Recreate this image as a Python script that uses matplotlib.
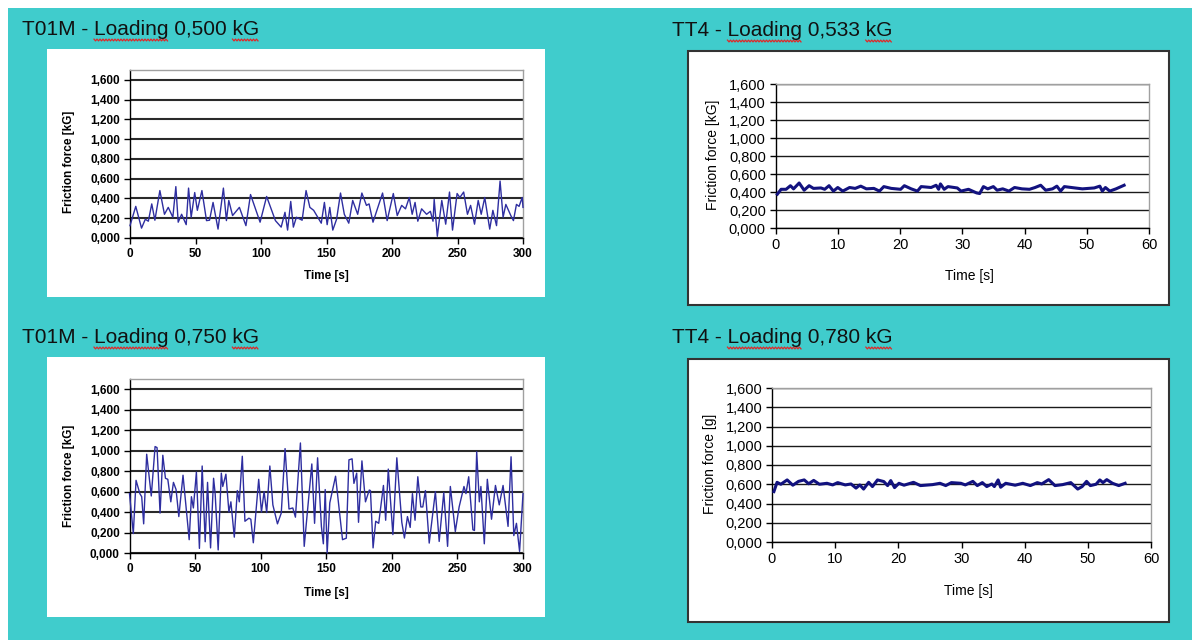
import matplotlib
matplotlib.use('Agg')
import matplotlib.pyplot as plt
from matplotlib.patches import Rectangle
from matplotlib.lines import Line2D
import numpy as np

plt.rcParams['font.family'] = ['Liberation Sans', 'DejaVu Sans']

TEAL = '#40CCCC'
NAVY_THIN = '#2E2EA0'
NAVY_THICK = '#12127F'
GRID = '#2A2A2A'

W, H = 1192, 640

# ---- data: T01M, loading 0,500 kG ----
t1 = [0, 4.4, 8.8, 11.7, 14, 16.6, 19, 22.8, 26.3, 29.2, 32.7, 35, 36.8, 39.4, 42.9,
      44.7, 46.7, 49.4, 51.4, 54.9, 58.4, 60.7, 63.4, 67.2, 71.3, 73.6, 75.4, 78.3, 83.5,
      88.5, 92, 99.3, 104.3, 111, 115.4, 118.3, 120.3, 122.7, 124.7, 127, 131.4, 134.4,
      137.3, 140.2, 146, 148.4, 150.5, 152.5, 154.8, 157.7, 160.7, 163.6, 167, 170, 173.8,
      177, 180.5, 182.5, 185.5, 192.8, 196.3, 201, 204, 207.4, 210.3, 213.2, 215.4, 217.6,
      219.7, 222.6, 226.4, 229.3, 231.3, 232.2, 234.6, 238, 241, 243.9, 246.2, 249.7, 251.8,
      254.7, 257.6, 260, 263, 265.8, 268.1, 270.8, 274.6, 277, 279.8, 282.5, 284.8, 286.9,
      290.7, 292.7, 295, 297, 299.4, 300]
f1 = [0.125, 0.32, 0.10, 0.19, 0.17, 0.345, 0.18, 0.48, 0.24, 0.31, 0.21, 0.52, 0.16, 0.24, 0.135,
      0.505, 0.21, 0.46, 0.28, 0.48, 0.176, 0.18, 0.36, 0.09, 0.505, 0.176, 0.38, 0.227, 0.31,
      0.125, 0.44, 0.16, 0.42, 0.176, 0.11, 0.26, 0.08, 0.37, 0.11, 0.21, 0.18, 0.48,
      0.31, 0.28, 0.15, 0.36, 0.135, 0.31, 0.08, 0.19, 0.455, 0.24, 0.15, 0.38, 0.24,
      0.455, 0.33, 0.345, 0.16, 0.455, 0.176, 0.45, 0.227, 0.33, 0.295, 0.41, 0.24, 0.36,
      0.17, 0.295, 0.24, 0.27, 0.17, 0.39, 0.017, 0.38, 0.14, 0.465, 0.08, 0.45, 0.41,
      0.465, 0.24, 0.33, 0.14, 0.38, 0.24, 0.41, 0.09, 0.28, 0.125, 0.576, 0.21, 0.34,
      0.227, 0.176, 0.34, 0.32, 0.41, 0.31]

# ---- data: TT4, loading 0,533 kG ----
t2 = [0.3, 0.9, 1.7, 2.4, 2.9, 3.8, 4.6, 5.4, 6.1, 7.3, 7.9, 8.6, 9.3, 10, 10.8, 11.9, 12.8,
      13.7, 14.6, 15.8, 16.7, 17.4, 18.6, 20.1, 20.7, 21.8, 22.8, 23.4, 25, 25.8, 26.2, 26.5,
      27.1, 27.7, 29.2, 29.8, 31, 32.3, 32.8, 33.4, 34.1, 35, 35.6, 36.5, 37.5, 38.4, 39.6,
      40.8, 41.7, 42.6, 43.4, 44.5, 45.2, 45.8, 46.4, 48.1, 49.3, 51.2, 52.1, 52.5, 53, 53.7,
      54.7, 56]
f2 = [0.376, 0.43, 0.43, 0.47, 0.435, 0.50, 0.42, 0.47, 0.44, 0.445, 0.43, 0.47, 0.41, 0.45,
      0.41, 0.45, 0.44, 0.465, 0.435, 0.44, 0.41, 0.46, 0.44, 0.43, 0.47, 0.435, 0.41, 0.46,
      0.45, 0.475, 0.43, 0.49, 0.43, 0.46, 0.445, 0.41, 0.43, 0.39, 0.383, 0.46, 0.435, 0.46,
      0.42, 0.435, 0.41, 0.45, 0.435, 0.43, 0.45, 0.475, 0.42, 0.435, 0.465, 0.41, 0.46,
      0.445, 0.435, 0.445, 0.465, 0.41, 0.45, 0.41, 0.435, 0.475]

# ---- data: T01M, loading 0,750 kG ----
t3 = [0, 2.9, 5, 7.9, 9.3, 10.8, 13.1, 16.6, 19.5, 21, 23.3, 25.4, 27.4, 29.2, 31.5, 33.5,
      35.5, 37.6, 40.8, 45.5, 47.2, 48.7, 51, 53.3, 55.4, 57.7, 59.5, 61.8, 64.1, 65.3, 67.6,
      70, 71.1, 73.5, 75.8, 77.3, 79.9, 82.2, 83.7, 86, 88, 91, 92.5, 94.4, 98.5, 100.6,
      102.6, 104.6, 107, 109.3, 112.8, 115.7, 118.6, 121.6, 124.5, 126.5, 130.3, 133.2, 139,
      141.1, 143.4, 146.3, 147.8, 149.2, 150.7, 152.7, 157.1, 162.4, 165.3, 167.3, 169.7,
      171.1, 173.2, 174.6, 177.2, 179.9, 182.8, 183.7, 185.7, 187.7, 190, 193.6, 195.3,
      197.3, 200.8, 203.8, 206.7, 207.6, 209.6, 211.9, 214, 215.7, 217.7, 219.8, 222.1,
      223.6, 225.6, 228.5, 233.2, 236.1, 239.6, 242.5, 244.6, 248.4, 251.3, 255, 256.5,
      258.6, 261.8, 263, 264.7, 266.7, 267.9, 270.5, 272.8, 276, 279, 281.9, 284.8, 288.6,
      290.9, 293, 295, 297.4, 300]
f3 = [0.58, 0.19, 0.71, 0.58, 0.55, 0.285, 0.965, 0.557, 1.04, 1.03, 0.39, 0.955, 0.73,
      0.72, 0.50, 0.69, 0.62, 0.356, 0.76, 0.13, 0.55, 0.44, 0.79, 0.045, 0.85, 0.11, 0.69,
      0.05, 0.73, 0.58, 0.03, 0.78, 0.65, 0.77, 0.40, 0.50, 0.155, 0.61, 0.50, 0.945, 0.31,
      0.34, 0.33, 0.10, 0.72, 0.40, 0.60, 0.395, 0.85, 0.47, 0.285, 0.39, 1.02, 0.43, 0.44,
      0.35, 1.075, 0.065, 0.87, 0.29, 0.93, 0.26, 0.09, 0.62, 0.0, 0.49, 0.75, 0.13, 0.145,
      0.91, 0.92, 0.68, 0.78, 0.30, 0.90, 0.50, 0.615, 0.61, 0.05, 0.31, 0.29, 0.66, 0.32,
      0.82, 0.18, 0.93, 0.45, 0.30, 0.146, 0.356, 0.25, 0.58, 0.32, 0.745, 0.45, 0.45,
      0.61, 0.097, 0.60, 0.113, 0.59, 0.065, 0.65, 0.21, 0.45, 0.65, 0.58, 0.745, 0.227,
      0.22, 0.99, 0.50, 0.65, 0.09, 0.72, 0.33, 0.66, 0.47, 0.66, 0.26, 0.94, 0.17, 0.29,
      0.016, 0.58]

# ---- data: TT4, loading 0,780 kG ----
t4 = [0.3, 0.8, 1.4, 2.4, 3.3, 4.2, 5.1, 5.8, 6.6, 7.5, 8.7, 9.6, 10.4, 11.6, 12.5, 13.3,
      13.9, 14.5, 15.3, 15.9, 16.7, 17.7, 18.3, 18.8, 19.4, 20.1, 20.9, 22.4, 23.5, 25.4,
      26.6, 27.5, 28.4, 29.9, 30.6, 31.8, 32.5, 33.3, 34, 34.8, 35.2, 35.8, 36.2, 37, 38.5,
      39.7, 40.9, 42, 42.7, 43.8, 44.8, 46, 47.3, 48.4, 49.1, 49.8, 50.4, 51.3, 51.9, 52.4,
      53, 53.9, 54.9, 55.9]
f4 = [0.524, 0.62, 0.60, 0.645, 0.59, 0.63, 0.645, 0.605, 0.64, 0.60, 0.61, 0.593, 0.617,
      0.593, 0.603, 0.56, 0.593, 0.55, 0.62, 0.576, 0.645, 0.628, 0.586, 0.638, 0.565, 0.61,
      0.59, 0.62, 0.586, 0.596, 0.61, 0.586, 0.617, 0.61, 0.593, 0.63, 0.586, 0.617, 0.576,
      0.603, 0.576, 0.645, 0.569, 0.61, 0.59, 0.61, 0.586, 0.617, 0.603, 0.648, 0.586,
      0.596, 0.617, 0.55, 0.576, 0.63, 0.586, 0.60, 0.645, 0.617, 0.648, 0.61, 0.586, 0.61]

y_ticks = [0.0, 0.2, 0.4, 0.6, 0.8, 1.0, 1.2, 1.4, 1.6]
x_ticks_t01m = [0, 50, 100, 150, 200, 250, 300]
x_ticks_tt4 = [0, 10, 20, 30, 40, 50, 60]
titles = ['T01M - Loading 0,500 kG', 'TT4 - Loading 0,533 kG',
          'T01M - Loading 0,750 kG', 'TT4 - Loading 0,780 kG']


def comma(v):
    return f'{v:.3f}'.replace('.', ',')


def px_rect(l, t, r, b):
    return [l / W, 1 - b / H, (r - l) / W, (b - t) / H]


fig = plt.figure(figsize=(W / 100, H / 100), dpi=100, facecolor='white')

# teal slide background
fig.patches.append(Rectangle((8 / W, 0), 1 - 8 / W, 1 - 8 / H, transform=fig.transFigure,
                             facecolor=TEAL, edgecolor='none', zorder=0))

# white chart boxes (l, t, r, b) in pixels
boxes = [(47, 49, 545, 297, None), (688, 51, 1169, 305, '#333333'),
         (47, 357, 545, 617, None), (688, 359, 1169, 622, '#333333')]
for l, t, r, b, ec in boxes:
    fig.patches.append(Rectangle((l / W, 1 - b / H), (r - l) / W, (b - t) / H,
                                 transform=fig.transFigure, facecolor='white',
                                 edgecolor=ec if ec else 'none', linewidth=1.5, zorder=1))


def excel_axes(rect, t, f, xticks, xmax, ymax, bold, ylabel, ylab_pos, xlab_pos):
    ax = fig.add_axes(rect)
    ax.set_zorder(2)
    ax.set_facecolor('white')
    lw = 1.0 if bold else 2.2
    color = NAVY_THIN if bold else NAVY_THICK
    ax.plot(t, f, color=color, lw=lw, solid_joinstyle='round', zorder=3, clip_on=False)
    ax.set_xlim(0, xmax)
    ax.set_ylim(0, ymax)
    weight = 'bold' if bold else 'normal'
    fs = 8.5 if bold else 10.5
    ax.set_xticks(xticks, labels=[str(v) for v in xticks], fontweight=weight, fontsize=fs)
    ax.set_yticks(y_ticks, labels=[comma(v) for v in y_ticks], fontweight=weight, fontsize=fs)
    ax.tick_params(direction='out', length=4, width=1, color='black', pad=3)
    ax.yaxis.grid(True, color=GRID if bold else '#1A1A1A', lw=1.5 if bold else 1.0)
    ax.set_axisbelow(True)
    for s in ['top', 'right']:
        ax.spines[s].set_color('#A0A0A0')
        ax.spines[s].set_linewidth(1.0)
    for s in ['left', 'bottom']:
        ax.spines[s].set_color('black')
        ax.spines[s].set_linewidth(1.0)
    ax.text(ylab_pos[0], ylab_pos[1], ylabel, transform=ax.transAxes, rotation=90,
            ha='center', va='center', fontsize=8.5 if bold else 10, fontweight=weight)
    ax.text(xlab_pos[0], xlab_pos[1], 'Time [s]', transform=ax.transAxes,
            ha='center', va='center', fontsize=8.5 if bold else 10, fontweight=weight)
    return ax


excel_axes(px_rect(130, 70, 523, 238), t1, f1, x_ticks_t01m, 300, 1.7, True,
           'Friction force [kG]', (-0.155, 0.454), (0.50, -0.226))
excel_axes(px_rect(775.5, 84, 1149, 228), t2, f2, x_ticks_tt4, 60, 1.6, False,
           'Friction force [kG]', (-0.167, 0.507), (0.52, -0.33))
excel_axes(px_rect(129.5, 379, 523, 553), t3, f3, x_ticks_t01m, 300, 1.7, True,
           'Friction force [kG]', (-0.154, 0.445), (0.50, -0.23))
excel_axes(px_rect(772, 388, 1151, 542), t4, f4, x_ticks_tt4, 60, 1.6, False,
           'Friction force [g]', (-0.164, 0.51), (0.517, -0.32))

# slide titles with the red spell-check squiggles under "Loading" and "kG"
title_pos = [(22, 35), (672, 36), (22, 343), (672, 343)]
fig.canvas.draw()
renderer = fig.canvas.get_renderer()


def text_width(s):
    tmp = fig.text(0, 0, s, fontsize=15)
    w = tmp.get_window_extent(renderer).width
    tmp.remove()
    return w


for (x, y), title in zip(title_pos, titles):
    fig.text(x / W, 1 - y / H, title, fontsize=15, ha='left', va='baseline',
             color='#111111', zorder=5)
    head = title.split('Loading')[0]
    spans = [(head, head + 'Loading'), (title[:-2], title)]
    for a, b in spans:
        x0 = x + text_width(a)
        x1 = x + text_width(b)
        xs = np.arange(x0, x1, 1.5)
        ys = y + 5 + np.where(np.arange(len(xs)) % 2 == 0, -0.9, 0.9)
        fig.add_artist(Line2D(xs / W, 1 - ys / H, transform=fig.transFigure,
                              color='#E02828', lw=0.9, zorder=5))

fig.savefig('out.png', dpi=100, facecolor='white')
